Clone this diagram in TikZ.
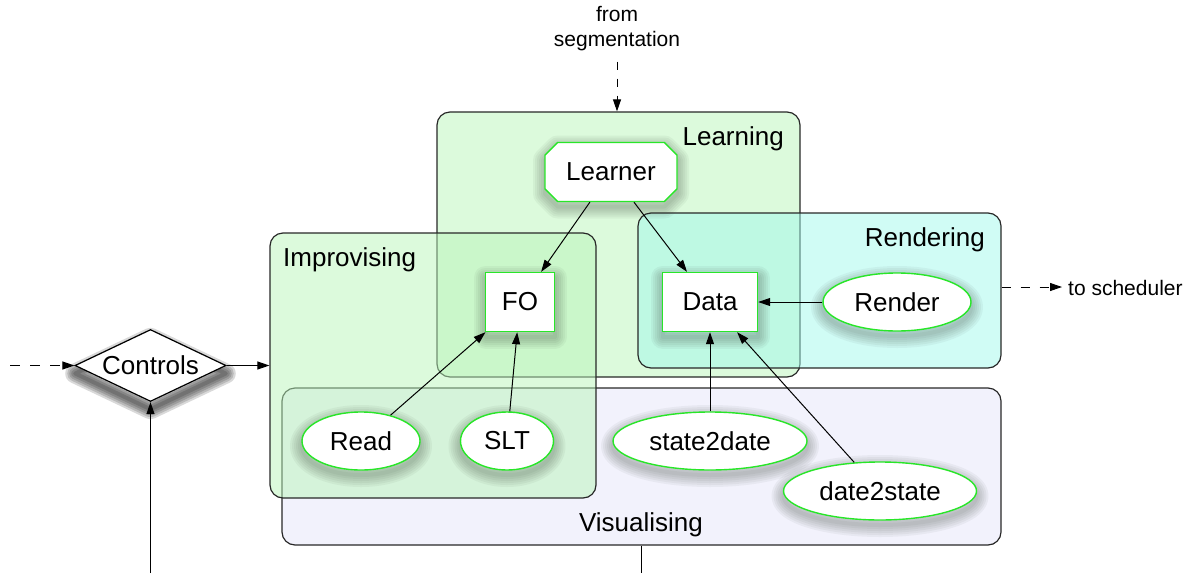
\documentclass[tikz,border=0pt]{standalone}
\usepackage{fontspec}
\setmainfont{Liberation Sans}
\usetikzlibrary{shapes.geometric,shapes.misc,arrows.meta}
\definecolor{learnfill}{RGB}{185,245,185}
\definecolor{visfill}{RGB}{242,242,252}
\definecolor{rendfill}{RGB}{161,249,235}
\definecolor{nodegreen}{RGB}{40,230,40}
\definecolor{boxline}{RGB}{40,40,40}
\definecolor{shadowcol}{RGB}{40,50,40}
\begin{document}
\begin{tikzpicture}[x=1pt,y=1pt,
  every node/.style={font=\fontsize{26}{30}\selectfont, inner sep=0pt},
  smalltext/.style={font=\fontsize{21}{25}\selectfont},
  region/.style={rectangle, draw=boxline, line width=1.2pt, rounded corners=13pt},
  shlayer/.style 2 args={preaction={draw=shadowcol, draw opacity=#2, line width=#1, line join=round, transform canvas={yshift=-5pt}}},
  shlayerd/.style 2 args={preaction={draw=black, draw opacity=#2, line width=#1, line join=round, transform canvas={yshift=-8pt}}},
  softshadow/.style={shlayer={24pt}{#1}, shlayer={20pt}{#1}, shlayer={16pt}{#1}, shlayer={12pt}{#1}, shlayer={8pt}{#1}, shlayer={4pt}{#1}},
  darkshadow/.style={shlayerd={20pt}{#1}, shlayerd={16pt}{#1}, shlayerd={12pt}{#1}, shlayerd={8pt}{#1}, shlayerd={4pt}{#1}},
  gnode/.style={draw=nodegreen, line width=1.4pt, fill=white, softshadow=0.05},
  boxnode/.style={gnode, rectangle, minimum width=69pt, minimum height=59pt},
  ellnode/.style={gnode, ellipse, minimum height=58pt},
  octnode/.style={gnode, chamfered rectangle, chamfered rectangle xsep=11pt, minimum width=132pt, minimum height=59pt},
  decnode/.style={diamond, aspect=2, draw=black, line width=1.2pt, fill=white, minimum width=151pt, minimum height=72pt, darkshadow=0.15},
  arr/.style={line width=1pt, -{Triangle[length=12pt,width=8pt]}},
  dasharr/.style={arr, dash pattern=on 10pt off 10pt},
  plainline/.style={line width=1pt}
]
\useasboundingbox (0,0) rectangle (1190,-573);

% regions
\node[region, fill=visfill, minimum width=719pt, minimum height=157pt] (vis) at (641.5,-466.5) {};
\node[region, fill=learnfill, fill opacity=0.5, minimum width=363pt, minimum height=265pt] (learn) at (618.5,-244.5) {};
\node[region, fill=learnfill, fill opacity=0.5, minimum width=326pt, minimum height=265pt] (impro) at (433,-365.5) {};
\node[region, fill=rendfill, fill opacity=0.5, minimum width=363pt, minimum height=155pt] (rendbox) at (819.5,-290.5) {};

% region labels
\node[anchor=base east] (learnlbl) at (784,-145) {Learning};
\node[anchor=base east] (rendlbl) at (985,-246.5) {Rendering};
\node[anchor=base west] (improlbl) at (283,-266.5) {Improvising};
\node[anchor=base] (vislbl) at (641,-531) {Visualising};

% nodes
\node[octnode] (learner) at (611,-172) {Learner};
\node[boxnode] (fo) at (520,-302) {FO};
\node[boxnode, minimum width=95pt] (data) at (710,-302) {Data};
\node[ellnode, minimum width=148pt] (render) at (897,-302) {Render};
\node[ellnode, minimum width=118pt] (read) at (361,-441) {Read};
\node[ellnode, minimum width=93pt] (slt) at (507,-441) {SLT};
\node[ellnode, minimum width=194pt] (s2d) at (710,-441) {state2date};
\node[ellnode, minimum width=193pt] (d2s) at (880,-491) {date2state};
\node[decnode] (controls) at (150.5,-365.5) {Controls};

% outside texts and free ends
\node[smalltext, align=center, anchor=south] (fromseg) at (617,-51.5) {from\\segmentation};
\node[smalltext, anchor=base west] (tosched) at (1068,-295) {to scheduler};
\coordinate (schedarr) at (1062,-287);
\coordinate (inleft) at (10,-365.5);
\coordinate (botctrl) at (150.5,-573);
\coordinate (botvis) at (641.5,-573);

% connectors
\draw[arr] (learner) -- (fo);
\draw[arr] (learner) -- (data);
\draw[arr] (render) -- (data);
\draw[arr] (read) -- (fo);
\draw[arr] (slt) -- (fo);
\draw[arr] (s2d) -- (data);
\draw[arr] (d2s) -- (data);
\draw[arr] (controls) -- (controls -| impro.west);
\draw[dasharr] (inleft) -- (controls);
\draw[arr] (botctrl) -- (controls);
\draw[plainline] (vis.south) -- (botvis);
\draw[dasharr, dash pattern=on 8pt off 9pt] ([yshift=-10pt]fromseg.south) -- (fromseg.south |- learn.north);
\draw[dasharr, dash pattern=on 9pt off 10pt] (rendbox.east |- schedarr) -- (schedarr);
\end{tikzpicture}
\end{document}
